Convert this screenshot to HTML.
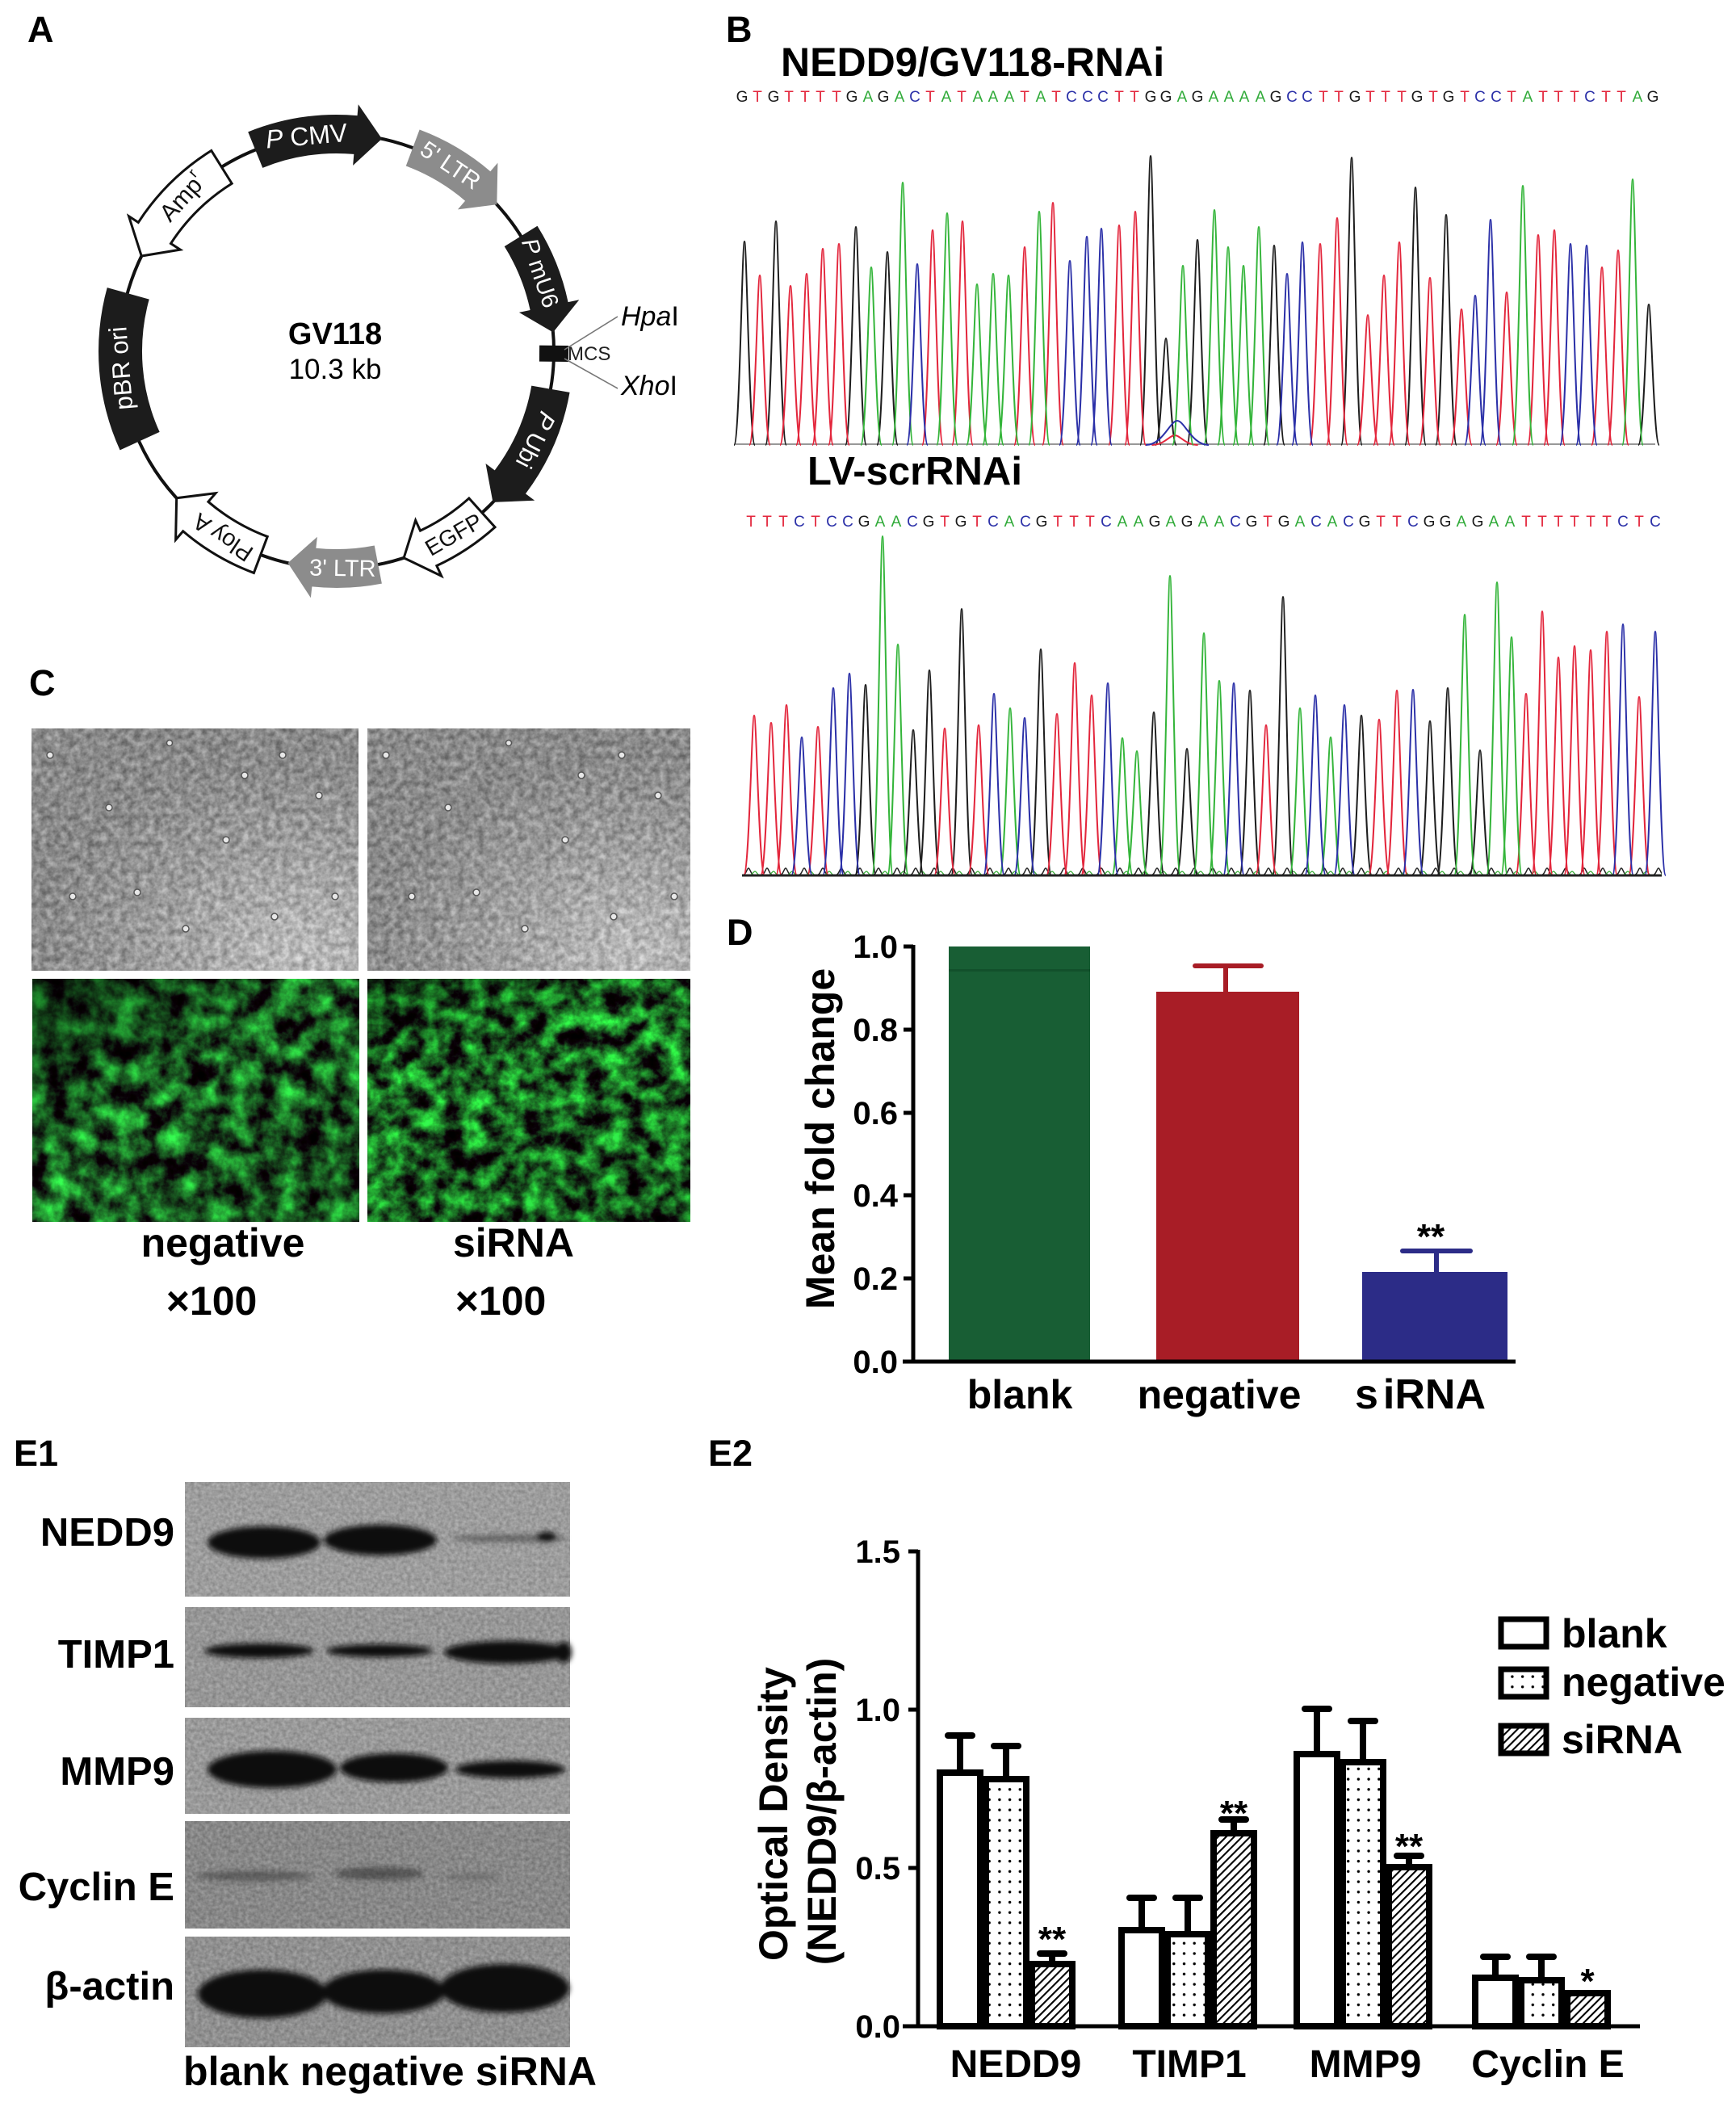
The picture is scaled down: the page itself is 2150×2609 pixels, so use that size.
<!DOCTYPE html>
<html><head><meta charset="utf-8">
<style>
html,body{margin:0;padding:0;background:#fff;}
svg{display:block;}
text{font-family:"Liberation Sans",Arial,sans-serif;}
.k{fill:#1a1a1a}.r{fill:#e3263c}.g{fill:#2faa38}.b{fill:#2b30a8}
</style></head><body>
<svg width="2150" height="2609" viewBox="0 0 2150 2609" xmlns="http://www.w3.org/2000/svg">
<defs>
<path id="pk" d="M-13 0C-6 0 -3 -1 0 -1C3 -1 6 0 13 0" fill="none" vector-effect="non-scaling-stroke"/>
<filter id="gn1" x="0" y="0" width="1" height="1" color-interpolation-filters="sRGB">
<feTurbulence type="fractalNoise" baseFrequency="0.035" numOctaves="5" seed="3"/>
<feColorMatrix type="matrix" values="0.3 0 0 0 -0.05  1.8 0 0 0 -0.55  0.5 0 0 0 -0.12  0 0 0 0 1"/>
</filter>
<filter id="gn2" x="0" y="0" width="1" height="1" color-interpolation-filters="sRGB">
<feTurbulence type="fractalNoise" baseFrequency="0.04" numOctaves="5" seed="11"/>
<feColorMatrix type="matrix" values="0.3 0 0 0 -0.05  2.0 0 0 0 -0.62  0.5 0 0 0 -0.12  0 0 0 0 1"/>
</filter>
<filter id="pn" x="0" y="0" width="1" height="1" color-interpolation-filters="sRGB">
<feTurbulence type="fractalNoise" baseFrequency="0.12" numOctaves="3" seed="4"/>
<feColorMatrix type="matrix" values="1.5 0 0 0 -0.25  1.5 0 0 0 -0.25  1.5 0 0 0 -0.25  0 0 0 0 0.3"/>
</filter>
<filter id="bn" x="0" y="0" width="1" height="1" color-interpolation-filters="sRGB">
<feTurbulence type="fractalNoise" baseFrequency="0.22" numOctaves="2" seed="6"/>
<feColorMatrix type="matrix" values="1.2 0 0 0 -0.1  1.2 0 0 0 -0.1  1.2 0 0 0 -0.1  0 0 0 0 0.2"/>
</filter>
<filter id="blur" x="-30%" y="-150%" width="160%" height="400%"><feGaussianBlur stdDeviation="3.5"/></filter>
<radialGradient id="pg" cx="0.82" cy="0.92" r="0.8">
<stop offset="0" stop-color="#d4d4d4"/><stop offset="0.6" stop-color="#a6a6a6"/><stop offset="1" stop-color="#8e8e8e"/>
</radialGradient>
<linearGradient id="dk" x1="0" y1="0" x2="1" y2="1">
<stop offset="0" stop-color="#000" stop-opacity="0.5"/><stop offset="0.45" stop-color="#000" stop-opacity="0"/><stop offset="1" stop-color="#000" stop-opacity="0.15"/>
</linearGradient>
<linearGradient id="dk2" x1="0" y1="0" x2="0.4" y2="1">
<stop offset="0" stop-color="#000" stop-opacity="0.35"/><stop offset="0.4" stop-color="#000" stop-opacity="0"/><stop offset="1" stop-color="#000" stop-opacity="0.1"/>
</linearGradient>
<pattern id="dots" width="12.7" height="12.7" patternUnits="userSpaceOnUse">
<rect width="12.7" height="12.7" fill="#fff"/><circle cx="6" cy="6" r="1.7" fill="#000"/>
</pattern>
<pattern id="hatch" width="7" height="7" patternUnits="userSpaceOnUse" patternTransform="rotate(45)">
<rect width="7" height="7" fill="#fff"/><line x1="1" y1="0" x2="1" y2="7" stroke="#000" stroke-width="2.2"/>
</pattern>
<pattern id="bn2" width="23" height="16" patternUnits="userSpaceOnUse" x="919" y="1068">
<path d="M0 16C5 16 6 7 8 7C10 7 11 16 16 16" stroke="#222" stroke-width="1.5" fill="none"/>
<path d="M8 16C13 16 14 11 16 11C18 11 19 16 23 16" stroke="#3a3" stroke-width="1.2" fill="none"/>
</pattern>
</defs>
<rect width="2150" height="2609" fill="#fff"/>

<!-- Panel labels -->
<g font-weight="bold" font-size="45" fill="#000">
<text x="34" y="52">A</text>
<text x="899" y="52">B</text>
<text x="36" y="861">C</text>
<text x="900" y="1170">D</text>
<text x="17" y="1815">E1</text>
<text x="877" y="1815">E2</text>
</g>

<!-- ================= A: plasmid ================= -->
<g transform="translate(417 435)">
<circle r="269" fill="none" stroke="#111" stroke-width="4"/>
<g transform="rotate(-5)">
<path d="M-85.7 -280.2A293 293 0 0 1 50.9 -288.5L53.3 -302.3L78.7 -257.2L40.1 -227.5L42.5 -241.3A245 245 0 0 0 -71.6 -234.3Z" fill="#1c1c1c"/>
<text x="-14" y="-269" font-size="32" fill="#fff" text-anchor="middle" dominant-baseline="central"><tspan font-style="italic">P</tspan> CMV</text>
</g>
<g transform="rotate(34)">
<path d="M-68.4 -284.9A293 293 0 0 1 33.2 -291.1L34.8 -305L62.8 -261.6L26.1 -229.5L27.7 -243.4A245 245 0 0 0 -57.2 -238.2Z" fill="#8c8c8c"/>
<text x="-12" y="-269" font-size="29" fill="#fff" text-anchor="middle" dominant-baseline="central">5' LTR</text>
</g>
<g transform="rotate(71.5)">
<path d="M-68.4 -284.9A293 293 0 0 1 33.2 -291.1L34.8 -305L62.8 -261.6L26.1 -229.5L27.7 -243.4A245 245 0 0 0 -57.2 -238.2Z" fill="#1c1c1c"/>
<text x="-12" y="-269" font-size="29" fill="#fff" text-anchor="middle" dominant-baseline="central"><tspan font-style="italic">P</tspan> mU6</text>
</g>
<g transform="rotate(90.6)"><rect x="-10" y="-287" width="20" height="36" fill="#111"/></g>
<g transform="rotate(117)">
<path d="M-85.7 -280.2A293 293 0 0 1 50.9 -288.5L53.3 -302.3L78.7 -257.2L40.1 -227.5L42.5 -241.3A245 245 0 0 0 -71.6 -234.3Z" fill="#1c1c1c"/>
<text x="-14" y="-269" font-size="30" fill="#fff" text-anchor="middle" dominant-baseline="central"><tspan font-style="italic">P</tspan> Ubi</text>
</g>
<g transform="rotate(150)">
<path d="M-60.9 -286.6A293 293 0 0 1 25.5 -291.9L26.8 -305.8L55.9 -263.1L20.1 -230.1L21.4 -244.1A245 245 0 0 0 -50.9 -239.6Z" fill="#fff" stroke="#111" stroke-width="3"/>
<text x="-12" y="-269" font-size="28" fill="#111" text-anchor="middle" dominant-baseline="central" transform="rotate(180 -12 -269)">EGFP</text>
</g>
<g transform="rotate(181)">
<path d="M-60.9 -286.6A293 293 0 0 1 25.5 -291.9L26.8 -305.8L55.9 -263.1L20.1 -230.1L21.4 -244.1A245 245 0 0 0 -50.9 -239.6Z" fill="#8c8c8c"/>
<text x="-12" y="-269" font-size="29" fill="#fff" text-anchor="middle" dominant-baseline="central" transform="rotate(180 -12 -269)">3' LTR</text>
</g>
<g transform="rotate(214)">
<path d="M-68.4 -284.9A293 293 0 0 1 33.2 -291.1L34.8 -305L62.8 -261.6L26.1 -229.5L27.7 -243.4A245 245 0 0 0 -57.2 -238.2Z" fill="#fff" stroke="#111" stroke-width="3"/>
<text x="-12" y="-269" font-size="29" fill="#111" text-anchor="middle" dominant-baseline="central">Ploy A</text>
</g>
<g transform="rotate(265.5)">
<path d="M-100.9 -277.2A295 295 0 0 1 100.9 -277.2L82.4 -226.5A241 241 0 0 0 -82.4 -226.5Z" fill="#1c1c1c"/>
<text x="0" y="-268" font-size="31" fill="#fff" text-anchor="middle" dominant-baseline="central">pBR ori</text>
</g>
<g transform="rotate(312)">
<path transform="scale(-1 1)" d="M-80.8 -281.7A293 293 0 0 1 45.8 -289.4L48 -303.2L74.1 -258.6L36.1 -228.2L38.3 -242A245 245 0 0 0 -67.5 -235.5Z" fill="#fff" stroke="#111" stroke-width="3"/>
<text x="14" y="-269" font-size="30" fill="#111" text-anchor="middle" dominant-baseline="central">Amp<tspan font-size="19" dy="-11">r</tspan></text>
</g>
</g>
<line x1="699" y1="433" x2="765" y2="392" stroke="#777" stroke-width="1.6"/>
<line x1="699" y1="444" x2="765" y2="481" stroke="#777" stroke-width="1.6"/>
<text x="703" y="446" font-size="24" fill="#222">MCS</text>
<text x="769" y="403" font-size="34" fill="#000"><tspan font-style="italic">Hpa</tspan>I</text>
<text x="769" y="489" font-size="34" fill="#000"><tspan font-style="italic">Xho</tspan>I</text>
<text x="415" y="426" font-size="38" font-weight="bold" text-anchor="middle">GV118</text>
<text x="415" y="469" font-size="35" text-anchor="middle">10.3 kb</text>

<!-- ================= B: chromatograms ================= -->
<text x="967" y="94" font-size="50" font-weight="bold">NEDD9/GV118-RNAi</text>
<text y="126" font-size="19" text-anchor="middle" x="919 938 958 977 997 1016 1036 1055 1075 1094 1114 1133 1152 1172 1191 1211 1230 1250 1269 1289 1308 1327 1347 1366 1386 1405 1425 1444 1464 1483 1503 1522 1541 1561 1580 1600 1619 1639 1658 1678 1697 1716 1736 1755 1775 1794 1814 1833 1853 1872 1892 1911 1930 1950 1969 1989 2008 2028 2047"><tspan class="k">G</tspan><tspan class="r">T</tspan><tspan class="k">G</tspan><tspan class="r">TTTT</tspan><tspan class="k">G</tspan><tspan class="g">A</tspan><tspan class="k">G</tspan><tspan class="g">A</tspan><tspan class="b">C</tspan><tspan class="r">T</tspan><tspan class="g">A</tspan><tspan class="r">T</tspan><tspan class="g">AAA</tspan><tspan class="r">T</tspan><tspan class="g">A</tspan><tspan class="r">T</tspan><tspan class="b">CCC</tspan><tspan class="r">TT</tspan><tspan class="k">GG</tspan><tspan class="g">A</tspan><tspan class="k">G</tspan><tspan class="g">AAAA</tspan><tspan class="k">G</tspan><tspan class="b">CC</tspan><tspan class="r">TT</tspan><tspan class="k">G</tspan><tspan class="r">TTT</tspan><tspan class="k">G</tspan><tspan class="r">T</tspan><tspan class="k">G</tspan><tspan class="r">T</tspan><tspan class="b">CC</tspan><tspan class="r">T</tspan><tspan class="g">A</tspan><tspan class="r">TTT</tspan><tspan class="b">C</tspan><tspan class="r">TT</tspan><tspan class="g">A</tspan><tspan class="k">G</tspan></text>

<line x1="911" y1="550" x2="2050" y2="550" stroke="#777" stroke-width="1.5"/>
<g fill="none" stroke-width="2">
<g stroke="#1e1e1e">
<use href="#pk" transform="translate(922 551) scale(1 252)"/>
<use href="#pk" transform="translate(961 551) scale(1 277)"/>
<use href="#pk" transform="translate(1060 551) scale(1 270)"/>
<use href="#pk" transform="translate(1099 551) scale(1 239)"/>
<use href="#pk" transform="translate(1425 551) scale(1 358)"/>
<use href="#pk" transform="translate(1444 551) scale(1 132)"/>
<use href="#pk" transform="translate(1483 551) scale(1 254)"/>
<use href="#pk" transform="translate(1578 551) scale(1 247)"/>
<use href="#pk" transform="translate(1674 551) scale(1 356)"/>
<use href="#pk" transform="translate(1753 551) scale(1 319)"/>
<use href="#pk" transform="translate(1791 551) scale(1 285)"/>
<use href="#pk" transform="translate(2042 551) scale(1 174)"/>
</g>
<g stroke="#e3263c">
<use href="#pk" transform="translate(941 551) scale(1 210)"/>
<use href="#pk" transform="translate(979 551) scale(1 197)"/>
<use href="#pk" transform="translate(999 551) scale(1 212)"/>
<use href="#pk" transform="translate(1019 551) scale(1 243)"/>
<use href="#pk" transform="translate(1039 551) scale(1 249)"/>
<use href="#pk" transform="translate(1155 551) scale(1 266)"/>
<use href="#pk" transform="translate(1192 551) scale(1 277)"/>
<use href="#pk" transform="translate(1269 551) scale(1 245)"/>
<use href="#pk" transform="translate(1304 551) scale(1 300)"/>
<use href="#pk" transform="translate(1386 551) scale(1 272)"/>
<use href="#pk" transform="translate(1406 551) scale(1 289)"/>
<use href="#pk" transform="translate(1635 551) scale(1 249)"/>
<use href="#pk" transform="translate(1656 551) scale(1 281)"/>
<use href="#pk" transform="translate(1694 551) scale(1 161)"/>
<use href="#pk" transform="translate(1714 551) scale(1 210)"/>
<use href="#pk" transform="translate(1733 551) scale(1 251)"/>
<use href="#pk" transform="translate(1771 551) scale(1 207)"/>
<use href="#pk" transform="translate(1810 551) scale(1 168)"/>
<use href="#pk" transform="translate(1866 551) scale(1 189)"/>
<use href="#pk" transform="translate(1905 551) scale(1 260)"/>
<use href="#pk" transform="translate(1925 551) scale(1 266)"/>
<use href="#pk" transform="translate(1984 551) scale(1 220)"/>
<use href="#pk" transform="translate(2004 551) scale(1 241)"/>
<use href="#pk" transform="translate(1455 551) scale(2.2 12)"/>
</g>
<g stroke="#34b53a">
<use href="#pk" transform="translate(1079 551) scale(1 220)"/>
<use href="#pk" transform="translate(1118 551) scale(1 325)"/>
<use href="#pk" transform="translate(1173 551) scale(1 287)"/>
<use href="#pk" transform="translate(1210 551) scale(1 199)"/>
<use href="#pk" transform="translate(1230 551) scale(1 212)"/>
<use href="#pk" transform="translate(1249 551) scale(1 210)"/>
<use href="#pk" transform="translate(1287 551) scale(1 289)"/>
<use href="#pk" transform="translate(1465 551) scale(1 222)"/>
<use href="#pk" transform="translate(1504 551) scale(1 291)"/>
<use href="#pk" transform="translate(1521 551) scale(1 245)"/>
<use href="#pk" transform="translate(1540 551) scale(1 222)"/>
<use href="#pk" transform="translate(1559 551) scale(1 270)"/>
<use href="#pk" transform="translate(1886 551) scale(1 321)"/>
<use href="#pk" transform="translate(2022 551) scale(1 329)"/>
</g>
<g stroke="#2b30a8">
<use href="#pk" transform="translate(1136 551) scale(1 224)"/>
<use href="#pk" transform="translate(1325 551) scale(1 228)"/>
<use href="#pk" transform="translate(1346 551) scale(1 258)"/>
<use href="#pk" transform="translate(1364 551) scale(1 268)"/>
<use href="#pk" transform="translate(1594 551) scale(1 212)"/>
<use href="#pk" transform="translate(1613 551) scale(1 251)"/>
<use href="#pk" transform="translate(1827 551) scale(1 185)"/>
<use href="#pk" transform="translate(1846 551) scale(1 279)"/>
<use href="#pk" transform="translate(1945 551) scale(1 249)"/>
<use href="#pk" transform="translate(1965 551) scale(1 247)"/>
<use href="#pk" transform="translate(1458 551) scale(3 30)"/>
</g>
</g>

<text x="1000" y="600" font-size="49" font-weight="bold">LV-scrRNAi</text>
<text y="652" font-size="19" text-anchor="middle" x="930 950 970 990 1010 1030 1050 1070 1090 1110 1130 1150 1170 1190 1210 1230 1250 1270 1290 1310 1330 1350 1370 1390 1410 1430 1450 1470 1490 1510 1530 1550 1570 1590 1610 1630 1650 1670 1690 1710 1730 1750 1770 1790 1810 1830 1850 1870 1890 1910 1930 1950 1970 1990 2010 2030 2050"><tspan class="r">TTT</tspan><tspan class="b">C</tspan><tspan class="r">T</tspan><tspan class="b">CC</tspan><tspan class="k">G</tspan><tspan class="g">AA</tspan><tspan class="b">C</tspan><tspan class="k">G</tspan><tspan class="r">T</tspan><tspan class="k">G</tspan><tspan class="r">T</tspan><tspan class="b">C</tspan><tspan class="g">A</tspan><tspan class="b">C</tspan><tspan class="k">G</tspan><tspan class="r">TTT</tspan><tspan class="b">C</tspan><tspan class="g">AA</tspan><tspan class="k">G</tspan><tspan class="g">A</tspan><tspan class="k">G</tspan><tspan class="g">AA</tspan><tspan class="b">C</tspan><tspan class="k">G</tspan><tspan class="r">T</tspan><tspan class="k">G</tspan><tspan class="g">A</tspan><tspan class="b">C</tspan><tspan class="g">A</tspan><tspan class="b">C</tspan><tspan class="k">G</tspan><tspan class="r">TT</tspan><tspan class="b">C</tspan><tspan class="k">GG</tspan><tspan class="g">A</tspan><tspan class="k">G</tspan><tspan class="g">AA</tspan><tspan class="r">TTTTTT</tspan><tspan class="b">C</tspan><tspan class="r">T</tspan><tspan class="b">C</tspan></text>

<rect x="919" y="1068" width="1139" height="16" fill="url(#bn2)"/>
<g fill="none" stroke-width="2">
<g stroke="#1e1e1e">
<use href="#pk" transform="translate(1072 1084) scale(1 236)"/>
<use href="#pk" transform="translate(1131 1084) scale(1 180)"/>
<use href="#pk" transform="translate(1151 1084) scale(1 254)"/>
<use href="#pk" transform="translate(1191 1084) scale(1 330)"/>
<use href="#pk" transform="translate(1289 1084) scale(1 280)"/>
<use href="#pk" transform="translate(1429 1084) scale(1 202)"/>
<use href="#pk" transform="translate(1470 1084) scale(1 157)"/>
<use href="#pk" transform="translate(1548 1084) scale(1 229)"/>
<use href="#pk" transform="translate(1589 1084) scale(1 345)"/>
<use href="#pk" transform="translate(1686 1084) scale(1 198)"/>
<use href="#pk" transform="translate(1771 1084) scale(1 191)"/>
<use href="#pk" transform="translate(1793 1084) scale(1 232)"/>
<use href="#pk" transform="translate(1833 1084) scale(1 155)"/>
</g>
<g stroke="#e3263c">
<use href="#pk" transform="translate(934 1084) scale(1 198)"/>
<use href="#pk" transform="translate(955 1084) scale(1 189)"/>
<use href="#pk" transform="translate(974 1084) scale(1 211)"/>
<use href="#pk" transform="translate(1013 1084) scale(1 184)"/>
<use href="#pk" transform="translate(1170 1084) scale(1 182)"/>
<use href="#pk" transform="translate(1212 1084) scale(1 186)"/>
<use href="#pk" transform="translate(1309 1084) scale(1 200)"/>
<use href="#pk" transform="translate(1331 1084) scale(1 263)"/>
<use href="#pk" transform="translate(1352 1084) scale(1 223)"/>
<use href="#pk" transform="translate(1568 1084) scale(1 186)"/>
<use href="#pk" transform="translate(1708 1084) scale(1 193)"/>
<use href="#pk" transform="translate(1730 1084) scale(1 229)"/>
<use href="#pk" transform="translate(1890 1084) scale(1 225)"/>
<use href="#pk" transform="translate(1910 1084) scale(1 327)"/>
<use href="#pk" transform="translate(1930 1084) scale(1 270)"/>
<use href="#pk" transform="translate(1950 1084) scale(1 284)"/>
<use href="#pk" transform="translate(1970 1084) scale(1 279)"/>
<use href="#pk" transform="translate(1990 1084) scale(1 302)"/>
<use href="#pk" transform="translate(2030 1084) scale(1 221)"/>
</g>
<g stroke="#34b53a">
<use href="#pk" transform="translate(1093 1084) scale(1 420)"/>
<use href="#pk" transform="translate(1112 1084) scale(1 286)"/>
<use href="#pk" transform="translate(1251 1084) scale(1 207)"/>
<use href="#pk" transform="translate(1390 1084) scale(1 170)"/>
<use href="#pk" transform="translate(1408 1084) scale(1 154)"/>
<use href="#pk" transform="translate(1449 1084) scale(1 371)"/>
<use href="#pk" transform="translate(1491 1084) scale(1 300)"/>
<use href="#pk" transform="translate(1510 1084) scale(1 241)"/>
<use href="#pk" transform="translate(1610 1084) scale(1 207)"/>
<use href="#pk" transform="translate(1648 1084) scale(1 171)"/>
<use href="#pk" transform="translate(1814 1084) scale(1 323)"/>
<use href="#pk" transform="translate(1854 1084) scale(1 363)"/>
<use href="#pk" transform="translate(1872 1084) scale(1 295)"/>
</g>
<g stroke="#2b30a8">
<use href="#pk" transform="translate(993 1084) scale(1 171)"/>
<use href="#pk" transform="translate(1032 1084) scale(1 232)"/>
<use href="#pk" transform="translate(1052 1084) scale(1 250)"/>
<use href="#pk" transform="translate(1231 1084) scale(1 225)"/>
<use href="#pk" transform="translate(1269 1084) scale(1 195)"/>
<use href="#pk" transform="translate(1372 1084) scale(1 238)"/>
<use href="#pk" transform="translate(1528 1084) scale(1 238)"/>
<use href="#pk" transform="translate(1629 1084) scale(1 223)"/>
<use href="#pk" transform="translate(1665 1084) scale(1 211)"/>
<use href="#pk" transform="translate(1750 1084) scale(1 230)"/>
<use href="#pk" transform="translate(2010 1084) scale(1 311)"/>
<use href="#pk" transform="translate(2050 1084) scale(1 302)"/>
</g>
</g>
<line x1="919" y1="1084" x2="2058" y2="1084" stroke="#222" stroke-width="3"/>

<!-- ================= C: images ================= -->
<rect x="39" y="902" width="405" height="300" fill="url(#pg)"/>
<rect x="39" y="902" width="405" height="300" filter="url(#pn)"/>
<rect x="455" y="902" width="400" height="300" fill="url(#pg)"/>
<rect x="455" y="902" width="400" height="300" filter="url(#pn)"/>
<g fill="#e8e8e8" stroke="#555" stroke-width="1.5">
<circle cx="62" cy="935" r="4"/><circle cx="135" cy="1000" r="4"/><circle cx="210" cy="920" r="3.5"/><circle cx="303" cy="960" r="4"/><circle cx="350" cy="935" r="4"/><circle cx="395" cy="985" r="4"/><circle cx="170" cy="1105" r="4"/><circle cx="230" cy="1150" r="4"/><circle cx="340" cy="1135" r="4"/><circle cx="90" cy="1110" r="4"/><circle cx="280" cy="1040" r="4"/><circle cx="415" cy="1110" r="4"/>
<circle cx="478" cy="935" r="4"/><circle cx="555" cy="1000" r="4"/><circle cx="630" cy="920" r="3.5"/><circle cx="720" cy="960" r="4"/><circle cx="770" cy="935" r="4"/><circle cx="815" cy="985" r="4"/><circle cx="590" cy="1105" r="4"/><circle cx="650" cy="1150" r="4"/><circle cx="760" cy="1135" r="4"/><circle cx="510" cy="1110" r="4"/><circle cx="700" cy="1040" r="4"/><circle cx="835" cy="1110" r="4"/>
</g>
<rect x="40" y="1212" width="405" height="301" filter="url(#gn1)"/>
<rect x="40" y="1212" width="405" height="301" fill="url(#dk)"/>
<rect x="455" y="1212" width="400" height="301" filter="url(#gn2)"/>
<rect x="455" y="1212" width="400" height="301" fill="url(#dk2)"/>
<g font-size="50" font-weight="bold" text-anchor="middle">
<text x="276" y="1556">negative</text>
<text x="636" y="1556">siRNA</text>
<text x="262" y="1628">×100</text>
<text x="620" y="1628">×100</text>
</g>

<!-- ================= D: bar chart ================= -->
<rect x="1175" y="1172" width="175" height="514" fill="#185e34"/>
<rect x="1175" y="1200" width="175" height="3" fill="#12502b"/>
<rect x="1432" y="1228" width="177" height="458" fill="#a81d26"/>
<rect x="1687" y="1575" width="180" height="111" fill="#2c2c87"/>
<g stroke-width="6" stroke-linecap="round">
<line x1="1518" y1="1228" x2="1518" y2="1196" stroke="#a81d26"/>
<line x1="1480" y1="1196" x2="1562" y2="1196" stroke="#a81d26"/>
<line x1="1779" y1="1575" x2="1779" y2="1549" stroke="#2c2c87"/>
<line x1="1737" y1="1549" x2="1821" y2="1549" stroke="#2c2c87"/>
</g>
<text x="1772" y="1546" font-size="44" font-weight="bold" text-anchor="middle">**</text>
<g stroke="#000" stroke-width="5">
<line x1="1131" y1="1170" x2="1131" y2="1688"/>
<line x1="1118" y1="1686" x2="1877" y2="1686"/>
<line x1="1119" y1="1172" x2="1131" y2="1172"/>
<line x1="1119" y1="1275" x2="1131" y2="1275"/>
<line x1="1119" y1="1378" x2="1131" y2="1378"/>
<line x1="1119" y1="1480" x2="1131" y2="1480"/>
<line x1="1119" y1="1583" x2="1131" y2="1583"/>
</g>
<g font-size="40" font-weight="bold" text-anchor="end">
<text x="1112" y="1186">1.0</text>
<text x="1112" y="1289">0.8</text>
<text x="1112" y="1392">0.6</text>
<text x="1112" y="1494">0.4</text>
<text x="1112" y="1597">0.2</text>
<text x="1112" y="1700">0.0</text>
</g>
<text transform="translate(1033 1410) rotate(-90)" font-size="50" font-weight="bold" text-anchor="middle">Mean fold change</text>
<g font-size="50" font-weight="bold" text-anchor="middle">
<text x="1263" y="1744">blank</text>
<text x="1510" y="1744">negative</text>
</g>
<text x="1678" y="1744" font-size="52" font-weight="bold">s<tspan dx="6">iRNA</tspan></text>

<!-- ================= E1: western blots ================= -->
<rect x="229" y="1835" width="477" height="142" fill="#a4a4a4"/>
<rect x="229" y="1990" width="477" height="124" fill="#9c9c9c"/>
<rect x="229" y="2127" width="477" height="119" fill="#a0a0a0"/>
<rect x="229" y="2255" width="477" height="133" fill="#8a8a8a"/>
<rect x="229" y="2398" width="477" height="137" fill="#949494"/>
<rect x="229" y="1835" width="477" height="142" filter="url(#bn)"/>
<rect x="229" y="1990" width="477" height="124" filter="url(#bn)"/>
<rect x="229" y="2127" width="477" height="119" filter="url(#bn)"/>
<rect x="229" y="2255" width="477" height="133" filter="url(#bn)"/>
<rect x="229" y="2398" width="477" height="137" filter="url(#bn)"/>
<g filter="url(#blur)" fill="#0a0a0a">
<ellipse cx="327" cy="1910" rx="70" ry="20"/>
<ellipse cx="471" cy="1907" rx="70" ry="19"/>
<ellipse cx="630" cy="1905" rx="72" ry="4" fill="#333" opacity="0.6"/>
<ellipse cx="677" cy="1903" rx="12" ry="6"/>
<ellipse cx="321" cy="2044" rx="68" ry="9"/>
<ellipse cx="470" cy="2044" rx="66" ry="8"/>
<ellipse cx="628" cy="2046" rx="78" ry="14"/>
<ellipse cx="698" cy="2046" rx="10" ry="13"/>
<ellipse cx="337" cy="2191" rx="80" ry="23"/>
<ellipse cx="488" cy="2189" rx="67" ry="18"/>
<ellipse cx="632" cy="2191" rx="68" ry="11"/>
<ellipse cx="315" cy="2323" rx="72" ry="6" fill="#333" opacity="0.55"/>
<ellipse cx="470" cy="2320" rx="55" ry="8" fill="#2a2a2a" opacity="0.55"/>
<ellipse cx="585" cy="2324" rx="35" ry="5" fill="#555" opacity="0.4"/>
<ellipse cx="325" cy="2469" rx="80" ry="30"/>
<ellipse cx="475" cy="2466" rx="76" ry="27"/>
<ellipse cx="625" cy="2462" rx="80" ry="30"/>
</g>
<g font-size="49" font-weight="bold" text-anchor="end">
<text x="216" y="1914">NEDD9</text>
<text x="216" y="2065">TIMP1</text>
<text x="216" y="2210">MMP9</text>
<text x="216" y="2353">Cyclin E</text>
<text x="216" y="2476">β-actin</text>
</g>
<text x="227" y="2582" font-size="50" font-weight="bold" textLength="512" lengthAdjust="spacing">blank negative siRNA</text>

<!-- ================= E2: bar chart ================= -->
<g stroke="#000" stroke-width="8" stroke-linecap="round">
<line x1="1189" y1="2195" x2="1189" y2="2149"/><line x1="1174" y1="2149" x2="1204" y2="2149"/>
<line x1="1246" y1="2203" x2="1246" y2="2162"/><line x1="1231" y1="2162" x2="1261" y2="2162"/>
<line x1="1303" y1="2432" x2="1303" y2="2419"/><line x1="1288" y1="2419" x2="1318" y2="2419"/>
<line x1="1414" y1="2390" x2="1414" y2="2350"/><line x1="1399" y1="2350" x2="1429" y2="2350"/>
<line x1="1471" y1="2395" x2="1471" y2="2350"/><line x1="1456" y1="2350" x2="1486" y2="2350"/>
<line x1="1528" y1="2270" x2="1528" y2="2253"/><line x1="1513" y1="2253" x2="1543" y2="2253"/>
<line x1="1631" y1="2172" x2="1631" y2="2116"/><line x1="1616" y1="2116" x2="1646" y2="2116"/>
<line x1="1688" y1="2182" x2="1688" y2="2131"/><line x1="1673" y1="2131" x2="1703" y2="2131"/>
<line x1="1745" y1="2312" x2="1745" y2="2298"/><line x1="1730" y1="2298" x2="1760" y2="2298"/>
<line x1="1852" y1="2449" x2="1852" y2="2423"/><line x1="1837" y1="2423" x2="1867" y2="2423"/>
<line x1="1909" y1="2452" x2="1909" y2="2423"/><line x1="1894" y1="2423" x2="1924" y2="2423"/>
</g>
<g stroke="#000" stroke-width="8">
<rect x="1164" y="2195" width="50" height="314" fill="#fff"/>
<rect x="1221" y="2203" width="50" height="306" fill="url(#dots)"/>
<rect x="1278" y="2432" width="50" height="77" fill="url(#hatch)"/>
<rect x="1389" y="2390" width="50" height="119" fill="#fff"/>
<rect x="1446" y="2395" width="50" height="114" fill="url(#dots)"/>
<rect x="1503" y="2270" width="50" height="239" fill="url(#hatch)"/>
<rect x="1606" y="2172" width="50" height="337" fill="#fff"/>
<rect x="1663" y="2182" width="50" height="327" fill="url(#dots)"/>
<rect x="1720" y="2312" width="50" height="197" fill="url(#hatch)"/>
<rect x="1827" y="2449" width="50" height="60" fill="#fff"/>
<rect x="1884" y="2452" width="50" height="57" fill="url(#dots)"/>
<rect x="1941" y="2468" width="50" height="41" fill="url(#hatch)"/>
</g>
<g font-size="44" font-weight="bold" text-anchor="middle">
<text x="1303" y="2416">**</text>
<text x="1528" y="2260">**</text>
<text x="1745" y="2301">**</text>
<text x="1966" y="2468">*</text>
</g>
<g stroke="#000" stroke-width="5">
<line x1="1137" y1="1919" x2="1137" y2="2511"/>
<line x1="1118" y1="2509" x2="2031" y2="2509"/>
<line x1="1125" y1="1921" x2="1137" y2="1921"/>
<line x1="1125" y1="2117" x2="1137" y2="2117"/>
<line x1="1125" y1="2313" x2="1137" y2="2313"/>
</g>
<g font-size="40" font-weight="bold" text-anchor="end">
<text x="1115" y="1935">1.5</text>
<text x="1115" y="2131">1.0</text>
<text x="1115" y="2327">0.5</text>
<text x="1115" y="2523">0.0</text>
</g>
<text transform="translate(975 2246) rotate(-90)" font-size="50" font-weight="bold" text-anchor="middle">Optical Density</text>
<text transform="translate(1035 2243) rotate(-90)" font-size="50" font-weight="bold" text-anchor="middle">(NEDD9/β-actin)</text>
<g font-size="48" font-weight="bold" text-anchor="middle">
<text x="1258" y="2572">NEDD9</text>
<text x="1473" y="2572">TIMP1</text>
<text x="1691" y="2572">MMP9</text>
<text x="1917" y="2572">Cyclin E</text>
</g>
<g stroke="#000" stroke-width="7">
<rect x="1859" y="2005" width="56" height="34" fill="#fff"/>
<rect x="1859" y="2067" width="56" height="34" fill="url(#dots)"/>
<rect x="1859" y="2137" width="56" height="34" fill="url(#hatch)"/>
</g>
<g font-size="50" font-weight="bold">
<text x="1934" y="2040">blank</text>
<text x="1934" y="2100">negative</text>
<text x="1934" y="2171">siRNA</text>
</g>
</svg>
</body></html>
